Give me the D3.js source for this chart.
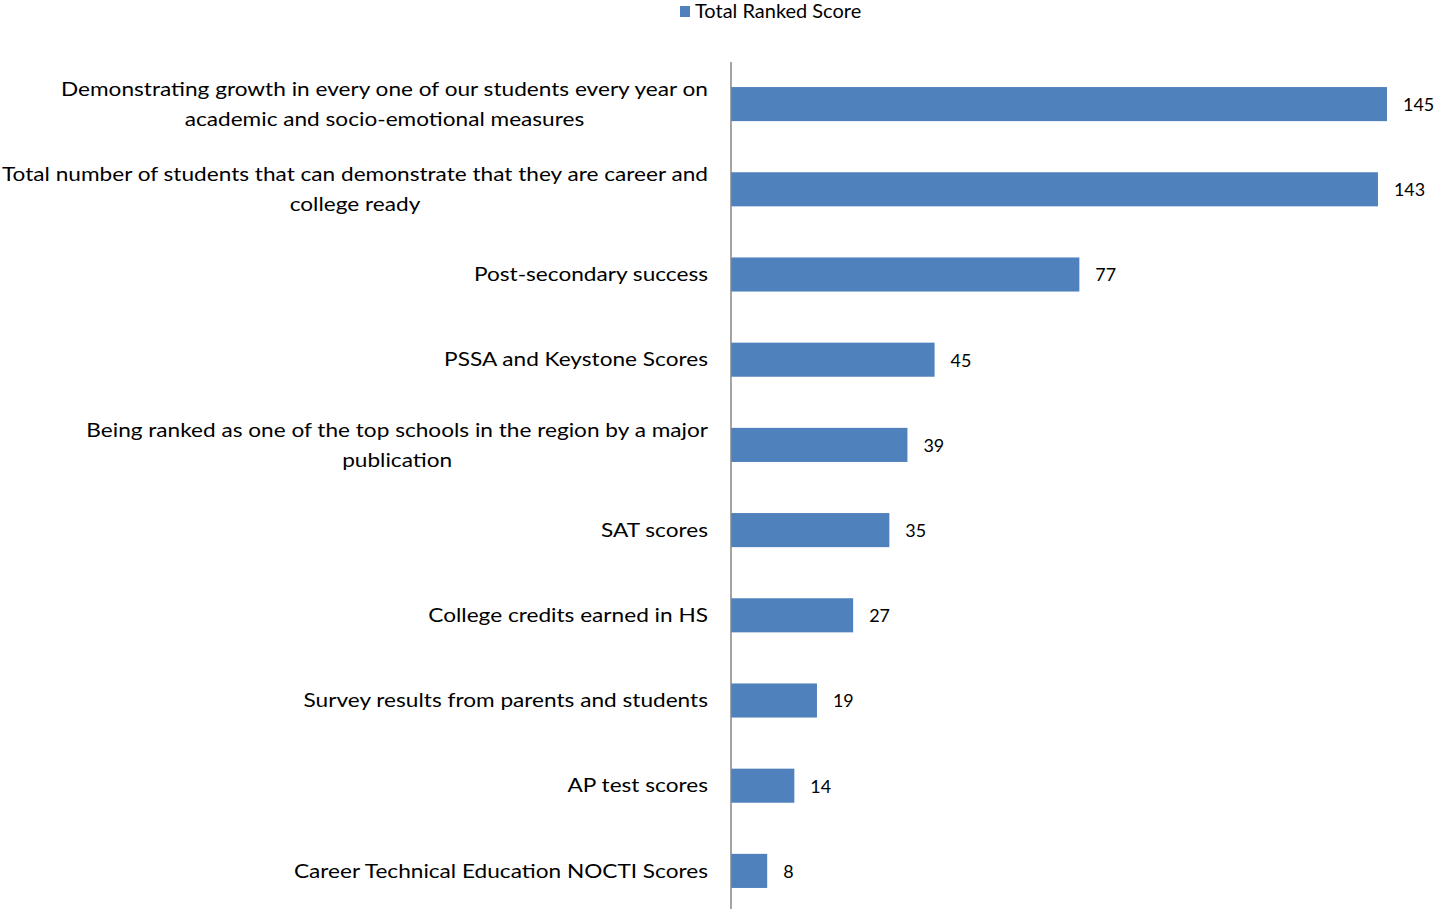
<!DOCTYPE html>
<html><head><meta charset="utf-8">
<script src="https://cdn.jsdelivr.net/npm/d3@7"></script>
<style>body{margin:0;background:#fff}svg{display:block}text{font-family:Lato,"Open Sans",sans-serif;fill:#000}</style>
</head><body>
<svg id="c" width="1436" height="909"></svg>
<script>
const categories = [
  ["Demonstrating growth in every one of our students every year on","academic and socio-emotional measures"],
  ["Total number of students that can demonstrate that they are career and","college ready"],
  ["Post-secondary success"],
  ["PSSA and Keystone Scores"],
  ["Being ranked as one of the top schools in the region by a major","publication"],
  ["SAT scores"],
  ["College credits earned in HS"],
  ["Survey results from parents and students"],
  ["AP test scores"],
  ["Career Technical Education NOCTI Scores"]
];
const values = [145,143,77,45,39,35,27,19,14,8];
const seriesName = "Total Ranked Score";

const svg = d3.select("#c");
const x = d3.scaleLinear().domain([0,145]).range([731,1387]);
const y = d3.scaleBand().domain(d3.range(categories.length)).range([61.5,913.5]).paddingInner(0.6).paddingOuter(0.3);

svg.selectAll("rect.bar").data(values).join("rect").attr("class","bar")
  .attr("x",x(0)).attr("y",(d,i)=>y(i)).attr("width",d=>x(d)-x(0)).attr("height",y.bandwidth())
  .attr("fill","#4F81BD");

svg.append("line").attr("x1",731).attr("x2",731).attr("y1",62).attr("y2",909)
  .attr("stroke","#868686").attr("stroke-width",1.5);

// measure scale ratio from the longest label line
const probe = svg.append("text").attr("font-size",20).text(categories[1][0]);
const r = 706/probe.node().getComputedTextLength();
probe.remove();

function condense(sel, k){
  sel.each(function(){const w=this.getComputedTextLength();d3.select(this).attr("textLength",w*k).attr("lengthAdjust","spacingAndGlyphs");});
}

const vals = svg.selectAll("text.val").data(values).join("text").attr("class","val")
  .attr("x",d=>x(d)+16).attr("y",(d,i)=>y(i)+y.bandwidth()/2).attr("dy","0.38em")
  .attr("font-size",18).text(d=>d);
condense(vals, r*0.88);

// category labels: wrapped block right-aligned at 708, lines centered within block
const lineH = 30;
categories.forEach((lines,i)=>{
  const cy = y(i)+y.bandwidth()/2;
  const g = svg.append("g");
  const ts = lines.map((ln,j)=> g.append("text").attr("text-anchor","middle")
      .attr("y", cy + (j-(lines.length-1)/2)*lineH).attr("dy","0.33em")
      .attr("font-size",20).text(ln));
  let maxW = 0;
  ts.forEach(t=>{const w=t.node().getComputedTextLength()*r; maxW=Math.max(maxW,w); t.attr("textLength",w).attr("lengthAdjust","spacingAndGlyphs");});
  ts.forEach(t=>t.attr("x",708-maxW/2));
});

// legend
svg.append("rect").attr("x",680).attr("y",6).attr("width",10).attr("height",11).attr("fill","#4F81BD");
const lt = svg.append("text").attr("x",695).attr("y",11.5).attr("dy","0.35em").attr("font-size",19).text(seriesName);
condense(lt, r*0.93);
</script>
</body></html>
